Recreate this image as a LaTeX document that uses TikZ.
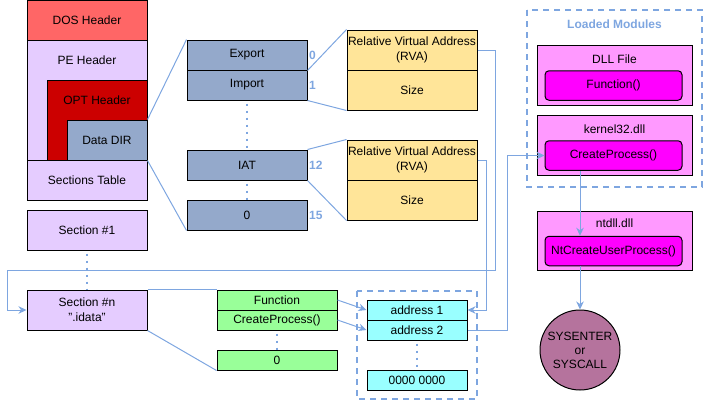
\documentclass[tikz,border=0pt]{standalone}
\usepackage{fontspec}
\setmainfont{Liberation Sans}
\usetikzlibrary{arrows.meta}
\definecolor{lblue}{HTML}{7EA6E0}
\definecolor{dosred}{HTML}{FF6666}
\definecolor{lpurple}{HTML}{E5CCFF}
\definecolor{optred}{HTML}{CC0000}
\definecolor{dirblue}{HTML}{94A9CB}
\definecolor{lyellow}{HTML}{FFE599}
\definecolor{lgreen}{HTML}{99FF99}
\definecolor{lcyan}{HTML}{99FFFF}
\definecolor{lpink}{HTML}{FF99FF}
\definecolor{magent}{HTML}{FF00FF}
\definecolor{plum}{HTML}{B5739D}
\begin{document}
\begin{tikzpicture}[x=1pt,y=-1pt,
  every node/.style={font=\fontsize{12}{15}\selectfont, text=black},
  box/.style={draw=black, line width=1pt, inner sep=0pt, align=center},
  rbox/.style={box, rounded corners=4pt, fill=magent, minimum width=137pt, minimum height=29.5pt},
  conn/.style={draw=lblue, line width=1pt},
  arr/.style={conn, -{Stealth[length=8pt,width=7.5pt,inset=2.5pt]}},
  dotln/.style={draw=lblue, line width=2pt, dash pattern=on 2pt off 5pt},
  dashbox/.style={draw=lblue, line width=2pt, dash pattern=on 6pt off 5pt},
  num/.style={text=lblue, font=\fontsize{12}{14}\selectfont\bfseries, anchor=west, inner sep=0pt},
  lbl/.style={inner sep=0pt}
]
\useasboundingbox (0,0) rectangle (704,402);

% containers
\draw[dashbox] (527,10) rectangle (702,187);
\node[lbl, text=lblue, font=\fontsize{12}{14}\selectfont\bfseries] (lm) at (614.5,24) {Loaded Modules};
\draw[dashbox] (357,291) rectangle (477,399);

% left column
\node[box, fill=dosred, minimum width=120pt, minimum height=40pt] (dos) at (87,20) {DOS Header};
\node[box, fill=lpurple, minimum width=120pt, minimum height=120pt] (pe) at (87,100) {};
\node[lbl] (pet) at (87,60) {PE Header};
\node[box, fill=optred, minimum width=100pt, minimum height=80pt] (opt) at (97,120) {};
\node[lbl] (optt) at (97,100) {OPT Header};
\node[box, fill=dirblue, minimum width=80pt, minimum height=40pt] (dd) at (107,140) {Data DIR};
\node[box, fill=lpurple, minimum width=120pt, minimum height=40pt] (st) at (87,180) {Sections Table};
\node[box, fill=lpurple, minimum width=120pt, minimum height=40pt] (s1) at (87,230) {Section \#1};
\node[box, fill=lpurple, minimum width=120pt, minimum height=40pt] (sn) at (87,310) {Section \#n\\".idata"};

% data directory
\node[box, fill=dirblue, minimum width=120pt, minimum height=30pt] (exp) at (247,55) {Export};
\node[box, fill=dirblue, minimum width=120pt, minimum height=30pt] (imp) at (247,85) {Import};
\node[box, fill=dirblue, minimum width=120pt, minimum height=30pt] (iat) at (247,165) {IAT};
\node[box, fill=dirblue, minimum width=120pt, minimum height=30pt] (z15) at (247,215) {0};
\node[num] (n0) at (309,55) {0};
\node[num] (n1) at (309,85) {1};
\node[num] (n12) at (309,165) {12};
\node[num] (n15) at (309,215) {15};

% RVA/Size
\node[box, fill=lyellow, minimum width=130pt, minimum height=40pt] (rva1) at (412,50) {Relative Virtual Address\\(RVA)};
\node[box, fill=lyellow, minimum width=130pt, minimum height=40pt] (sz1) at (412,90) {Size};
\node[box, fill=lyellow, minimum width=130pt, minimum height=40pt] (rva2) at (412,160) {Relative Virtual Address\\(RVA)};
\node[box, fill=lyellow, minimum width=130pt, minimum height=40pt] (sz2) at (412,200) {Size};

% green
\node[box, fill=lgreen, minimum width=120pt, minimum height=20pt] (fn) at (277,300) {Function};
\node[box, fill=lgreen, minimum width=120pt, minimum height=20pt] (gcp) at (277,320) {CreateProcess()};
\node[box, fill=lgreen, minimum width=120pt, minimum height=20pt] (g0) at (277,360) {0};

% address table
\node[box, fill=lcyan, minimum width=100pt, minimum height=20pt] (a1) at (417,310) {address 1};
\node[box, fill=lcyan, minimum width=100pt, minimum height=20pt] (a2) at (417,330) {address 2};
\node[box, fill=lcyan, minimum width=100pt, minimum height=20pt] (a0) at (417,380) {0000 0000};

% modules
\node[box, fill=lpink, minimum width=155pt, minimum height=60pt] (dll) at (614.5,75) {};
\node[lbl] (dllt) at (614.5,59) {DLL File};
\node[rbox] (dfn) at (613.5,85.5) {Function()};
\node[box, fill=lpink, minimum width=155pt, minimum height=60pt] (k32) at (614.5,145) {};
\node[lbl] (k32t) at (614.5,129) {kernel32.dll};
\node[rbox] (kcp) at (613.5,155.5) {CreateProcess()};
\node[box, fill=lpink, minimum width=155pt, minimum height=59pt] (nt) at (614.5,240.5) {};
\node[lbl] (ntt) at (614.5,223) {ntdll.dll};
\node[rbox] (ncp) at (613.5,251) {NtCreateUserProcess()};
\node[draw=black, line width=1pt, circle, fill=plum, minimum size=80pt, inner sep=0pt, align=center, font=\fontsize{12}{14}\selectfont] (sys) at (580,350) {SYSENTER\\or\\SYSCALL};

% dotted
\draw[dotln] ([yshift=-3pt]s1.south) -- (sn.north);
\draw[dotln] ([yshift=-3pt]imp.south) -- (iat.north);
\draw[dotln] ([yshift=-3pt]iat.south) -- (z15.north);
\draw[dotln] ([yshift=-3pt]gcp.south) -- (g0.north);
\draw[dotln] ([yshift=-3pt]a2.south) -- (a0.north);

% plain connectors
\draw[conn] (dd.north east) -- (exp.north west);
\draw[conn] (dd.south east) -- (z15.south west);
\draw[conn] (exp.south east) -- (rva1.north west);
\draw[conn] (imp.south east) -- (sz1.south west);
\draw[conn] (iat.north east) -- (rva2.north west);
\draw[conn] (iat.south east) -- (sz2.south west);
\draw[conn] (sn.north east) -- (fn.north west);
\draw[conn] (sn.south east) -- (g0.south west);

% arrows
\draw[arr] (rva1.east) -| (495,270) -| (7,310) -- (sn.west);
\draw[arr] (rva2.east) -| (486,310) -- (a1.east);
\draw[arr] (a2.east) -| (507,155.5) -- (kcp.west);
\draw[arr] (fn.east) -- (a1.west);
\draw[arr] (gcp.east) -- (a2.west);
\draw[arr] (kcp.south -| sys.center) -- (ncp.north -| sys.center);
\draw[arr] (ncp.south -| sys.center) -- (sys.north);
\end{tikzpicture}
\end{document}
